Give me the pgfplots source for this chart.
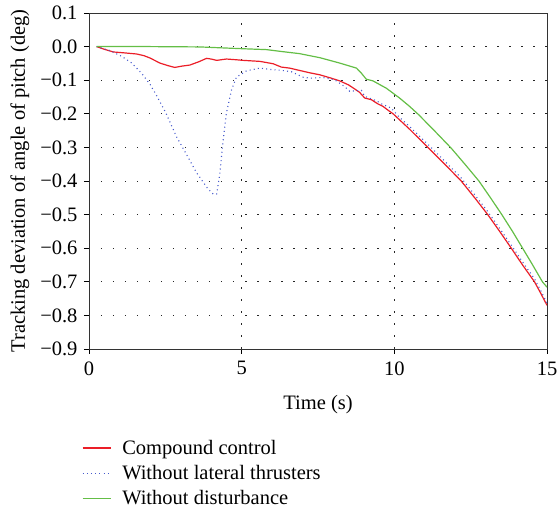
\documentclass[border=0pt]{standalone}
\usepackage{fontspec}
\setmainfont{Liberation Serif}
\usepackage{pgfplots}
\usepackage{pgfplotstable}
\pgfplotsset{compat=1.18}
\definecolor{cred}{RGB}{235,30,40}
\definecolor{cblue}{RGB}{70,90,205}
\definecolor{cgreen}{RGB}{100,190,70}

\pgfplotstableread{
t v
0.25 0.000
0.5 -0.008
0.8 -0.016
1.2 -0.019
1.56 -0.022
1.8 -0.027
2.0 -0.034
2.32 -0.049
2.6 -0.057
2.81 -0.062
3.05 -0.058
3.3 -0.055
3.6 -0.045
3.85 -0.035
4.0 -0.037
4.18 -0.041
4.5 -0.037
4.8 -0.039
5.05 -0.041
5.6 -0.044
6.03 -0.051
6.3 -0.061
6.57 -0.064
6.9 -0.071
7.23 -0.078
7.56 -0.084
7.9 -0.093
8.21 -0.102
8.5 -0.114
8.7 -0.126
8.86 -0.136
9.03 -0.153
9.25 -0.158
9.45 -0.170
9.63 -0.178
9.85 -0.193
9.96 -0.200
10.5 -0.246
11.1 -0.300
11.65 -0.350
12.19 -0.400
12.65 -0.452
13.06 -0.500
13.45 -0.550
13.83 -0.600
14.2 -0.650
14.59 -0.700
14.8 -0.735
15.0 -0.770
}\redtab

\pgfplotstableread{
t v
0.25 0.000
0.69 -0.012
1.07 -0.029
1.4 -0.049
1.72 -0.079
1.99 -0.111
2.21 -0.145
2.52 -0.198
2.87 -0.269
3.2 -0.322
3.52 -0.375
3.9 -0.424
4.07 -0.439
4.18 -0.439
4.28 -0.382
4.39 -0.282
4.5 -0.198
4.67 -0.128
4.83 -0.091
5.16 -0.072
5.6 -0.064
6.03 -0.069
6.25 -0.070
6.63 -0.075
7.01 -0.091
7.23 -0.094
7.66 -0.092
8.05 -0.099
8.37 -0.119
8.54 -0.133
8.92 -0.130
9.03 -0.148
9.41 -0.161
9.57 -0.170
9.9 -0.183
10.12 -0.206
10.5 -0.238
11.1 -0.291
11.65 -0.341
12.19 -0.391
12.65 -0.443
13.06 -0.491
13.45 -0.541
13.83 -0.591
14.2 -0.641
14.59 -0.691
14.8 -0.727
15.0 -0.764
}\bluetab

\pgfplotstableread{
t v
0.25 0.000
2.0 0.000
3.63 -0.001
4.94 -0.006
5.81 -0.009
6.25 -0.014
6.9 -0.021
7.56 -0.033
8.21 -0.049
8.76 -0.064
8.92 -0.079
9.08 -0.097
9.3 -0.102
9.74 -0.124
10.17 -0.153
10.5 -0.178
10.8 -0.203
11.33 -0.252
11.86 -0.302
12.33 -0.352
12.77 -0.400
13.15 -0.450
13.52 -0.500
13.87 -0.550
14.2 -0.600
14.53 -0.650
14.85 -0.700
15.0 -0.716
}\greentab

\begin{document}
\begin{tikzpicture}[font=\fontsize{20.5}{24}\selectfont]
\useasboundingbox (-89pt,-164pt) rectangle (468pt,349pt);
\begin{axis}[
  at={(0pt,0pt)}, anchor=south west,
  scale only axis, width=458pt, height=336pt,
  xmin=0, xmax=15, ymin=-0.9, ymax=0.1,
  xtick={0,5,10,15},
  ytick={-0.9,-0.8,-0.7,-0.6,-0.5,-0.4,-0.3,-0.2,-0.1,0,0.1},
  yticklabels={−0.9,−0.8,−0.7,−0.6,−0.5,−0.4,−0.3,−0.2,−0.1,0.0,0.1},
  /pgf/number format/assume math mode=true,
  tick align=outside, tick pos=left, major tick length=5pt,
  tick style={black, line width=0.8pt},
  axis line style={black!80, line width=0.9pt},
  xticklabel style={yshift=-4pt},
  yticklabel style={xshift=-3pt},
  xmajorgrids, ymajorgrids,
  grid style={black!85, line width=0.9pt, dash pattern=on 1.5pt off 10.5pt},
  xlabel={Time (s)},
  ylabel={Tracking deviation of angle of pitch (deg)},
  xlabel style={at={(axis description cs:0.5,-0.164)}, anchor=center},
  ylabel style={at={(axis description cs:-0.151,0.5)}, anchor=center},
  legend style={at={(axis description cs:-0.016,-0.265)}, anchor=north west,
    draw=none, fill=none, cells={anchor=west}, row sep=5.5pt,
    column sep=9pt, inner sep=0pt,
    font=\fontsize{20.5}{24}\selectfont},
  legend image code/.code={\draw[#1, line width=1.4pt] (0pt,0pt) -- (28pt,0pt);},
]
\addplot[cred, line width=1.2pt] table[x=t,y=v] {\redtab};
\addlegendentry{Compound control}
\addplot[cblue, line width=1.1pt, dash pattern=on 1pt off 3.2pt] table[x=t,y=v] {\bluetab};
\addlegendentry{Without lateral thrusters}
\addplot[cgreen, line width=1.2pt] table[x=t,y=v] {\greentab};
\addlegendentry{Without disturbance}
\end{axis}
\end{tikzpicture}
\end{document}
